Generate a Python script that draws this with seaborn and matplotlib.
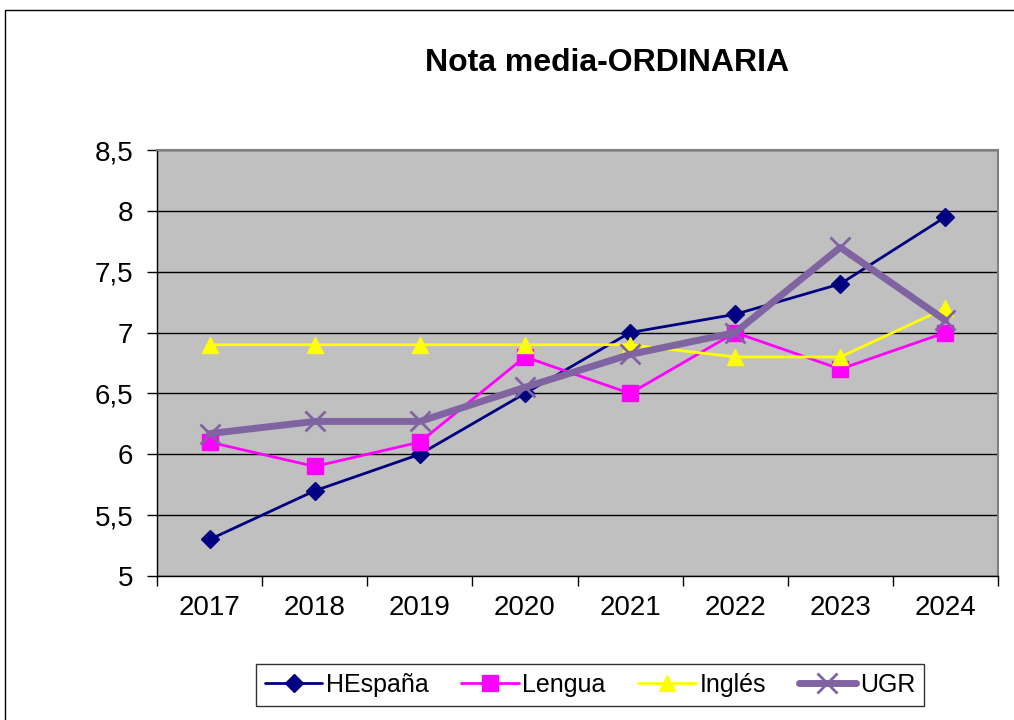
import numpy as np
import pandas as pd
import seaborn as sns
import matplotlib.pyplot as plt
from matplotlib.patches import Rectangle

years = ["2017", "2018", "2019", "2020", "2021", "2022", "2023", "2024"]
hespana = [5.3, 5.7, 6.0, 6.5, 7.0, 7.15, 7.4, 7.95]
lengua = [6.1, 5.9, 6.1, 6.8, 6.5, 7.0, 6.7, 7.0]
ingles = [6.9, 6.9, 6.9, 6.9, 6.9, 6.8, 6.8, 7.2]
ugr = [6.17, 6.27, 6.27, 6.55, 6.82, 7.0, 7.7, 7.1]

series = {"HEspaña": hespana, "Lengua": lengua, "Inglés": ingles, "UGR": ugr}
styles = {
    "HEspaña": dict(color="#000080", marker="D", lw=2, ms=9, mew=1),
    "Lengua": dict(color="#FF00FF", marker="s", lw=2, ms=11, mew=1),
    "Inglés": dict(color="#FFFF00", marker="^", lw=2, ms=11, mew=1),
    "UGR": dict(color="#8064A2", marker="x", lw=5, ms=14, mew=2),
}

sns.set_theme(style="white", rc={"text.color": "black", "xtick.color": "black",
                                 "ytick.color": "black", "axes.labelcolor": "black"})
plt.rcParams["font.family"] = ["Liberation Sans", "DejaVu Sans"]

fig = plt.figure(figsize=(10.14, 7.2), dpi=100)
ax = fig.add_axes([157 / 1014, 1 - 576 / 720, (998 - 157) / 1014, (576 - 150) / 720])
ax.set_facecolor("#C0C0C0")

x = np.arange(len(years))
for name, vals in series.items():
    st = styles[name]
    df = pd.DataFrame({"x": x, "y": vals})
    sns.lineplot(data=df, x="x", y="y", ax=ax, color=st["color"], lw=st["lw"],
                 marker=st["marker"], markersize=st["ms"], markeredgewidth=st["mew"],
                 markeredgecolor=st["color"], label=name, legend=False)

ax.set_xlim(-0.5, len(years) - 0.5)
ax.set_ylim(5, 8.5)
ax.set_yticks(np.arange(5, 8.51, 0.5))
ax.set_yticklabels([f"{v:g}".replace(".", ",") for v in np.arange(5, 8.51, 0.5)])
ax.set_xticks(np.arange(-0.5, len(years), 1))
ax.set_xticklabels([])
ax.set_xticks(x, minor=True)
ax.set_xticklabels(years, minor=True)
ax.tick_params(axis="x", which="minor", length=0, pad=14, labelsize=20)
ax.tick_params(axis="x", which="major", direction="out", length=7, width=1, color="black", bottom=True)
ax.tick_params(axis="y", direction="out", length=7, width=1, color="black", left=True, labelsize=20, pad=10)
ax.yaxis.grid(True, color="black", lw=1)
ax.set_axisbelow(True)
ax.set_xlabel("")
ax.set_ylabel("")
for side in ["top", "right"]:
    ax.spines[side].set_color("#808080")
    ax.spines[side].set_linewidth(1.5)
for side in ["left", "bottom"]:
    ax.spines[side].set_color("black")
    ax.spines[side].set_linewidth(1)

fig.text(607 / 1014, 1 - 63 / 720, "Nota media-ORDINARIA", ha="center", va="center",
         fontsize=23, fontweight="bold")

handles, labels = ax.get_legend_handles_labels()
leg = fig.legend(handles, labels, loc="center", bbox_to_anchor=(590 / 1014, 1 - 685 / 720),
                 ncol=4, fontsize=18, frameon=True, fancybox=False, edgecolor="black",
                 handlelength=2.3, columnspacing=1.3, handletextpad=0.15, borderpad=0.35)
leg.get_frame().set_linewidth(1)

fig.patches.append(Rectangle((5 / 1014, -0.01), 1.02, 1 - 10 / 720 + 0.01, transform=fig.transFigure,
                             fill=False, edgecolor="black", lw=1))

fig.savefig("out.png", dpi=100)
